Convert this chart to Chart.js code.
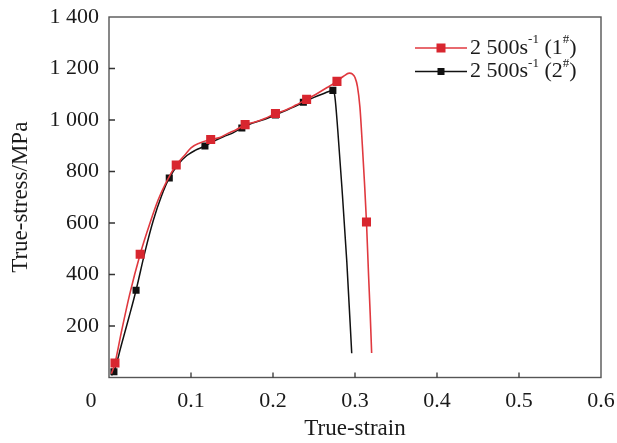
<!DOCTYPE html>
<html>
<head>
<meta charset="utf-8">
<script src="https://cdn.jsdelivr.net/npm/chart.js@4/dist/chart.umd.min.js"></script>
<style>
  html, body { margin: 0; padding: 0; background: #fff; }
  #wrap { width: 617px; height: 443px; }
</style>
</head>
<body>
<div id="wrap"><canvas id="curve-canvas" width="617" height="443"></canvas></div>
<script>
// true strain / true stress
const redStrain = [0.003, 0.0073, 0.015, 0.025, 0.038, 0.05, 0.06, 0.07, 0.082, 0.092, 0.1, 0.11, 0.124, 0.135, 0.145, 0.155, 0.166, 0.178, 0.19, 0.203, 0.215, 0.228, 0.241, 0.254, 0.266, 0.278, 0.286, 0.293, 0.297, 0.3, 0.303, 0.306, 0.309, 0.3115, 0.314, 0.3165, 0.3185, 0.3203];
const redStress = [15, 56, 175, 320, 479, 600, 690, 760, 825, 862, 892, 910, 924, 932, 948, 962, 982, 992, 1006, 1025, 1038, 1058, 1080, 1103, 1126, 1150, 1170, 1182, 1178, 1165, 1130, 1050, 900, 760, 604, 400, 250, 95];
const redMarks = [1, 4, 8, 12, 16, 19, 22, 25, 34];

const blackStrain = [0.003, 0.006, 0.015, 0.024, 0.033, 0.044, 0.054, 0.064, 0.0735, 0.085, 0.095, 0.105, 0.117, 0.128, 0.14, 0.15, 0.162, 0.175, 0.19, 0.203, 0.214, 0.225, 0.237, 0.25, 0.262, 0.273, 0.2755, 0.279, 0.284, 0.29, 0.296];
const blackStress = [8, 22, 125, 230, 339, 490, 610, 705, 775, 830, 862, 882, 899, 918, 936, 948, 969, 988, 1003, 1020, 1035, 1050, 1069, 1088, 1103, 1115, 1090, 960, 740, 450, 94];
const blackMarks = [1, 4, 8, 12, 16, 19, 22, 25];

const xTicks = [0, 0.1, 0.2, 0.3, 0.4, 0.5, 0.6];
const yTicks = [0, 200, 400, 600, 800, 1000, 1200, 1400];

// legend text pieces: [normal, superscript, normal, superscript, normal]
const legendRed = ['2 500s', '-1', ' (1', '#', ')'];
const legendBlack = ['2 500s', '-1', ' (2', '#', ')'];

(function() {

    var color = {
        red: '#d8262f',
        redLine: '#e0393f',
        black: '#111111',
        frame: '#555555',
        text: '#1a1a1a'
    };
    var serif = 'Liberation Serif';

    function points(xs, ys) {
        return xs.map(function(x, i) { return { x: x, y: ys[i] }; });
    }

    function fmtStress(v) {
        if (v === 0) return '';
        if (v >= 1000) return Math.floor(v / 1000) + ' ' + String(v % 1000).padStart(3, '0');
        return String(v);
    }

    function drawRich(ctx, parts, x, y) {
        parts.forEach(function(p, i) {
            var sup = i % 2 === 1;
            ctx.font = (sup ? '13px ' : '22px ') + serif;
            ctx.fillText(p, x, sup ? y - 8 : y);
            x += ctx.measureText(p).width;
        });
    }

    const framePlugin = {
        id: 'frame',
        afterDraw: function(chart) {
            const ctx = chart.ctx;
            const a = chart.chartArea;
            const sx = chart.scales.x;
            const sy = chart.scales.y;
            ctx.save();

            // box around the plot
            ctx.strokeStyle = color.frame;
            ctx.lineWidth = 1.4;
            ctx.strokeRect(a.left, a.top, a.right - a.left, a.bottom - a.top);

            // inward ticks
            ctx.strokeStyle = '#333';
            ctx.lineWidth = 1.3;
            ctx.beginPath();
            xTicks.slice(1, -1).forEach(function(v) {
                var px = sx.getPixelForValue(v);
                ctx.moveTo(px, a.bottom);
                ctx.lineTo(px, a.bottom - 5);
            });
            yTicks.slice(1, -1).forEach(function(v) {
                var py = sy.getPixelForValue(v);
                ctx.moveTo(a.left, py);
                ctx.lineTo(a.left + 6, py);
            });
            ctx.stroke();

            // shared origin label
            ctx.fillStyle = color.text;
            ctx.font = '22px ' + serif;
            ctx.textAlign = 'center';
            ctx.textBaseline = 'middle';
            ctx.fillText('0', a.left - 18, a.bottom + 11 + 13.2);

            // legend
            var rows = [
                { parts: legendRed, line: color.redLine, mark: color.red, size: 9 },
                { parts: legendBlack, line: color.black, mark: color.black, size: 7 }
            ];
            rows.forEach(function(r, i) {
                var y = a.top + 31 + i * 23.5;
                var x0 = a.right - 186;
                ctx.strokeStyle = r.line;
                ctx.lineWidth = 1.5;
                ctx.beginPath();
                ctx.moveTo(x0, y);
                ctx.lineTo(x0 + 52, y);
                ctx.stroke();
                ctx.fillStyle = r.mark;
                ctx.fillRect(x0 + 26 - r.size / 2, y - r.size / 2, r.size, r.size);
                ctx.fillStyle = color.text;
                ctx.textAlign = 'left';
                ctx.textBaseline = 'middle';
                drawRich(ctx, r.parts, x0 + 55, y);
            });
            ctx.restore();
        }
    };

    const ctxCurve = document.getElementById('curve-canvas').getContext('2d');

    const chartCurve = new Chart(ctxCurve, {
        type: 'scatter',
        plugins: [framePlugin],
        data: {
            datasets: [{
                label: '2 500s-1 (1#)',
                data: points(redStrain, redStress),
                showLine: true,
                borderColor: color.redLine,
                borderWidth: 1.6,
                backgroundColor: color.red,
                cubicInterpolationMode: 'monotone',
                pointStyle: 'rect',
                pointRadius: function(c) { return redMarks.indexOf(c.dataIndex) >= 0 ? 6.4 : 0; },
                pointBorderWidth: 0,
                pointHoverRadius: 0
            }, {
                label: '2 500s-1 (2#)',
                data: points(blackStrain, blackStress),
                showLine: true,
                borderColor: color.black,
                borderWidth: 1.5,
                backgroundColor: color.black,
                cubicInterpolationMode: 'monotone',
                pointStyle: 'rect',
                pointRadius: function(c) { return blackMarks.indexOf(c.dataIndex) >= 0 ? 5 : 0; },
                pointBorderWidth: 0,
                pointHoverRadius: 0
            }]
        },
        options: {
            responsive: false,
            animation: false,
            layout: { padding: { left: 0, right: 16, top: 17, bottom: 0 } },
            plugins: {
                legend: { display: false },
                tooltip: { enabled: false }
            },
            scales: {
                x: {
                    type: 'linear',
                    min: 0,
                    max: 0.6,
                    afterBuildTicks: function(s) { s.ticks = xTicks.map(function(v) { return { value: v }; }); },
                    afterFit: function(s) {
                        s.height = 65.5;
                        s.paddingLeft = 0;
                        s.paddingRight = 0;
                    },
                    grid: { display: false, drawTicks: false },
                    border: { display: false },
                    ticks: {
                        padding: 11,
                        color: color.text,
                        font: { family: serif, size: 22 },
                        maxRotation: 0,
                        callback: function(v) { return v === 0 ? '' : v.toFixed(1); }
                    },
                    title: {
                        display: true,
                        text: 'True-strain',
                        color: color.text,
                        font: { family: serif, size: 23 },
                        padding: { top: 0, bottom: 0 }
                    }
                },
                y: {
                    min: 0,
                    max: 1400,
                    afterBuildTicks: function(s) { s.ticks = yTicks.map(function(v) { return { value: v }; }); },
                    afterFit: function(s) {
                        s.width = 109;
                        s.paddingTop = 0;
                        s.paddingBottom = 0;
                    },
                    grid: { display: false, drawTicks: false },
                    border: { display: false },
                    ticks: {
                        padding: 10,
                        color: color.text,
                        font: { family: serif, size: 22 },
                        callback: function(v) { return fmtStress(v); }
                    },
                    title: {
                        display: true,
                        text: 'True-stress/MPa',
                        color: color.text,
                        font: { family: serif, size: 23 },
                        padding: { top: 7, bottom: 0 }
                    }
                }
            }
        }
    });

})()
</script>
</body>
</html>
